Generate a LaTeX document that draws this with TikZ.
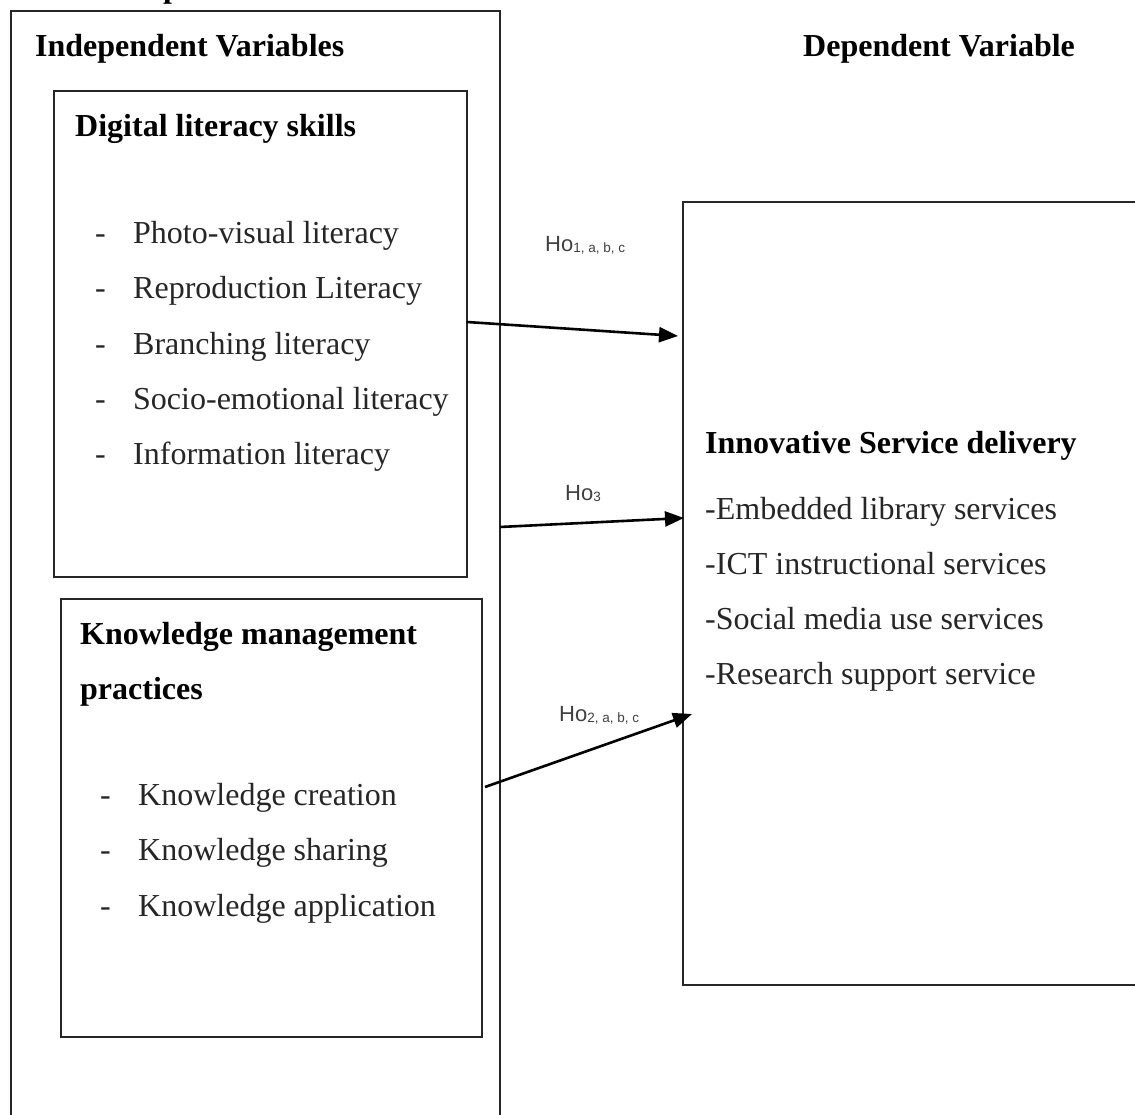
\documentclass[tikz,border=0pt]{standalone}
\usepackage{fontspec}
\setmainfont{Liberation Serif}
\newfontfamily\labelfont{Liberation Sans}
\usetikzlibrary{arrows.meta}
\begin{document}
\begin{tikzpicture}[x=1pt,y=-1pt,
  frame/.style={draw=black!85,line width=1.4pt,inner sep=0pt,outer sep=0pt,anchor=north west},
  heading/.style={anchor=base west,inner sep=0pt,font=\fontsize{32}{38}\selectfont\bfseries},
  item/.style={anchor=base west,inner sep=0pt,font=\fontsize{32}{38}\selectfont,text=black!85},
  dashmark/.style={anchor=base west,inner sep=0pt,font=\fontsize{32}{38}\selectfont,text=black!85},
  hlabel/.style={anchor=base west,inner sep=0pt,text=black!75},
  conn/.style={line width=2.6pt,-{Triangle[length=19pt,width=15pt]}}]
\useasboundingbox (0,0) rectangle (1135,1115);
\fill[white] (0,0) rectangle (1135,1115);
% cut-off title fragment
\node[heading] (title) at (163,-2) {p};
% frames
\node[frame,minimum width=489pt,minimum height=1130pt] (outer) at (11,11) {};
\node[frame,minimum width=413pt,minimum height=486pt] (dls) at (54,91) {};
\node[frame,minimum width=421pt,minimum height=438pt] (kmp) at (61,599) {};
\node[frame,minimum width=470pt,minimum height=783pt] (isd) at (683,202) {};
% headings
\node[heading] (iv) at (35,57) {Independent Variables};
\node[heading] (dv) at (803,57) {Dependent Variable};
\node[heading] (dlsh) at (75,137) {Digital literacy skills};
\node[heading] (kmh1) at (80,644) {Knowledge management};
\node[heading] (kmh2) at (80,699) {practices};
\node[heading] (isdh) at (705,453) {Innovative Service delivery};
% digital literacy list
\foreach \t [count=\i] in {Photo-visual literacy,Reproduction Literacy,Branching literacy,Socio-emotional literacy,Information literacy}{
  \node[dashmark] (dd\i) at (95,{244+55*(\i-1)}) {-};
  \node[item] (di\i) at (133,{244+55*(\i-1)}) {\t};
}
% knowledge list
\foreach \t [count=\i] in {Knowledge creation,Knowledge sharing,Knowledge application}{
  \node[dashmark] (kd\i) at (100,{805+55.5*(\i-1)}) {-};
  \node[item] (ki\i) at (138,{805+55.5*(\i-1)}) {\t};
}
% service list
\foreach \t [count=\i] in {-Embedded library services,-ICT instructional services,-Social media use services,-Research support service}{
  \node[item] (si\i) at (705,{519+55.3*(\i-1)}) {\t};
}
% hypothesis labels
\node[hlabel] (h1) at (545,252) {\labelfont\fontsize{22}{26}\selectfont Ho\raisebox{-1pt}{\fontsize{13.5}{16}\selectfont 1, a, b, c}};
\node[hlabel] (h3) at (565,500) {\labelfont\fontsize{22}{26}\selectfont Ho\raisebox{-1pt}{\fontsize{13.5}{16}\selectfont 3}};
\node[hlabel] (h2) at (559,721) {\labelfont\fontsize{22}{26}\selectfont Ho\raisebox{-1pt}{\fontsize{13.5}{16}\selectfont 2, a, b, c}};
% connector end points
\coordinate (a1s) at (467,322);
\coordinate (a1e) at (678,336);
\coordinate (a2s) at (500,527);
\coordinate (a2e) at (684,518);
\coordinate (a3s) at (485,787);
\coordinate (a3e) at (692,714);
\draw[conn] (a1s) -- (a1e);
\draw[conn] (a2s) -- (a2e);
\draw[conn] (a3s) -- (a3e);
\end{tikzpicture}
\end{document}
